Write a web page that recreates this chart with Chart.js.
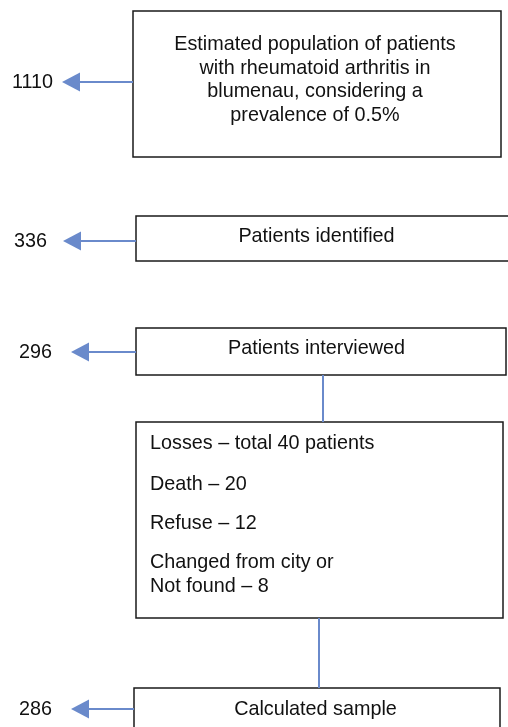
<!DOCTYPE html>
<html>
<head>
<meta charset="utf-8">
<script src="https://cdn.jsdelivr.net/npm/chart.js@4.4.1/dist/chart.umd.min.js"></script>
<style>
  html, body { margin: 0; padding: 0; background: #fff; }
  #wrap { width: 508px; height: 727px; position: relative; }
</style>
</head>
<body>
<div id="wrap"><canvas id="flow"></canvas></div>
<script>
// flow stages, top to bottom
const stageLabels = [
  ['Estimated population of patients', 'with rheumatoid arthritis in', 'blumenau, considering a', 'prevalence of 0.5%'],
  ['Patients identified'],
  ['Patients interviewed'],
  ['Calculated sample']
];
const stageCounts = [1110, 336, 296, 286];

// losses between interviewed and sample
const lossLines = [
  ['Losses \u2013 total 40 patients'],
  ['Death \u2013 20'],
  ['Refuse \u2013 12'],
  ['Changed from city or', 'Not found \u2013 8']
];

// layout, in canvas units (x: 0..508, y: 0..727)
const boxes = [
  { x0: 133, x1: 501, y0: 11, y1: 157, arrowY: 82, textY: 80, tipX: 62, numX: 53 },
  { x0: 136, x1: 520, y0: 216, y1: 261, arrowY: 241, textY: 237, tipX: 63, numX: 47 },
  { x0: 136, x1: 506, y0: 328, y1: 375, arrowY: 352, textY: 349, tipX: 71, numX: 52 },
  { x0: 134, x1: 500, y0: 688, y1: 760, arrowY: 709, textY: 710, tipX: 71, numX: 52 }
];
const lossBox = { x0: 136, x1: 503, y0: 422, y1: 618 };
const lossLineY = [444, 485, 524, 563];

const ARROW = '#6a8acb';
const FONT = '19.8px "Liberation Sans", Arial, Helvetica, sans-serif';

const flowPlugin = {
  id: 'flow',
  afterDraw(chart) {
    const ctx = chart.ctx;
    const sx = v => chart.scales.x.getPixelForValue(v);
    const sy = v => chart.scales.y.getPixelForValue(v);

    ctx.save();
    ctx.font = FONT;
    ctx.textBaseline = 'middle';

    function rect(b) {
      ctx.strokeStyle = '#1a1a1a';
      ctx.lineWidth = 1.5;
      ctx.strokeRect(sx(b.x0), sy(b.y0), sx(b.x1) - sx(b.x0), sy(b.y1) - sy(b.y0));
    }

    function vline(x, y0, y1) {
      ctx.strokeStyle = ARROW;
      ctx.lineWidth = 2;
      ctx.beginPath();
      ctx.moveTo(sx(x), sy(y0));
      ctx.lineTo(sx(x), sy(y1));
      ctx.stroke();
    }

    boxes.forEach((b, i) => {
      rect(b);
      const lines = stageLabels[i];
      const lh = 23.5;
      const cx = (b.x0 + Math.min(b.x1, 497)) / 2;
      ctx.fillStyle = '#111';
      ctx.textAlign = 'center';
      lines.forEach((t, k) => {
        ctx.fillText(t, sx(cx), sy(b.textY + (k - (lines.length - 1) / 2) * lh));
      });

      // arrow to the count
      const y = sy(b.arrowY);
      const tip = sx(b.tipX);
      ctx.strokeStyle = ARROW;
      ctx.fillStyle = ARROW;
      ctx.lineWidth = 2;
      ctx.beginPath();
      ctx.moveTo(sx(b.x0), y);
      ctx.lineTo(tip + 15, y);
      ctx.stroke();
      ctx.beginPath();
      ctx.moveTo(tip, y);
      ctx.lineTo(tip + 18, y - 9.5);
      ctx.lineTo(tip + 18, y + 9.5);
      ctx.closePath();
      ctx.fill();

      ctx.fillStyle = '#111';
      ctx.textAlign = 'right';
      ctx.fillText(String(stageCounts[i]), sx(b.numX), y + 1);
    });

    // losses box
    rect(lossBox);
    ctx.fillStyle = '#111';
    ctx.textAlign = 'left';
    lossLines.forEach((lines, i) => {
      lines.forEach((t, k) => {
        ctx.fillText(t, sx(150), sy(lossLineY[i] + k * 24));
      });
    });

    vline(323, boxes[2].y1, lossBox.y0);
    vline(319, lossBox.y1, boxes[3].y0);

    ctx.restore();
  }
};

new Chart(document.getElementById('flow'), {
  type: 'scatter',
  data: { datasets: [{ data: [], pointRadius: 0 }] },
  options: {
    responsive: true,
    maintainAspectRatio: false,
    animation: false,
    layout: { padding: 0 },
    plugins: { legend: { display: false }, tooltip: { enabled: false } },
    scales: {
      x: { type: 'linear', min: 0, max: 508, display: false },
      y: { type: 'linear', min: 0, max: 727, reverse: true, display: false }
    }
  },
  plugins: [flowPlugin]
});
</script>
</body>
</html>
